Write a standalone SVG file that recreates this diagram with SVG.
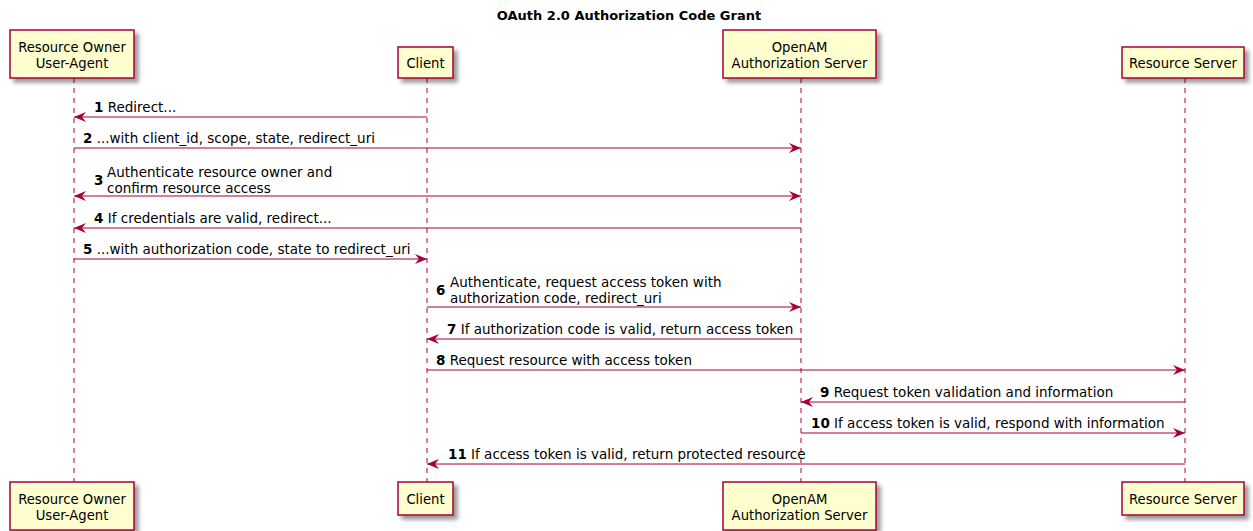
<svg xmlns="http://www.w3.org/2000/svg" width="1253" height="531" viewBox="0 0 1253 531">
<style>
text{font-family:"DejaVu Sans","Liberation Sans",sans-serif;font-size:13.5px;fill:#000}
.t{font-weight:bold;font-size:13px}
.n{font-weight:bold}
.p{font-size:13.2px}
.box{fill:#FEFECE;stroke:#A80036;stroke-width:1.5}
.life{stroke:#A80036;stroke-width:1;stroke-dasharray:5,5;fill:none}
.msg{stroke:#A80036;stroke-width:1;fill:none}
.c{text-anchor:middle}
</style>
<defs>
<filter id="sh" x="-10%" y="-10%" width="130%" height="140%">
<feGaussianBlur in="SourceAlpha" stdDeviation="2"/>
<feOffset dx="4" dy="4" result="b"/>
<feComponentTransfer><feFuncA type="linear" slope="0.4"/></feComponentTransfer>
<feMerge><feMergeNode/><feMergeNode in="SourceGraphic"/></feMerge>
</filter>
<marker id="ah" viewBox="0 0 12 10" refX="12" refY="5" markerWidth="12" markerHeight="10" markerUnits="userSpaceOnUse" orient="auto-start-reverse">
<polygon points="0,0 12,5 0,10 4,5" fill="#A80036"/>
</marker>
</defs>
<text class="t c" x="629" y="20">OAuth 2.0 Authorization Code Grant</text>
<g id="lifelines">
<line class="life" x1="74" y1="78" x2="74" y2="482"/>
<line class="life" x1="427" y1="78" x2="427" y2="482"/>
<line class="life" x1="801" y1="78" x2="801" y2="482"/>
<line class="life" x1="1185" y1="78" x2="1185" y2="482"/>
</g>
<g id="p-owner">
<rect class="box" x="10" y="30" width="124" height="48" filter="url(#sh)"/>
<text class="c p" x="72" y="52">Resource Owner</text>
<text class="c p" x="72" y="68">User-Agent</text>
<rect class="box" x="10" y="482" width="124" height="48" filter="url(#sh)"/>
<text class="c p" x="72" y="504">Resource Owner</text>
<text class="c p" x="72" y="520">User-Agent</text>
</g>
<g id="p-client">
<rect class="box" x="398" y="47" width="55" height="31" filter="url(#sh)"/>
<text class="c p" x="425.5" y="68">Client</text>
<rect class="box" x="398" y="482" width="55" height="33" filter="url(#sh)"/>
<text class="c p" x="425.5" y="504">Client</text>
</g>
<g id="p-openam">
<rect class="box" x="723" y="30" width="153" height="48" filter="url(#sh)"/>
<text class="c p" x="799.5" y="52">OpenAM</text>
<text class="c p" x="799.5" y="68">Authorization Server</text>
<rect class="box" x="723" y="482" width="153" height="48" filter="url(#sh)"/>
<text class="c p" x="799.5" y="504">OpenAM</text>
<text class="c p" x="799.5" y="520">Authorization Server</text>
</g>
<g id="p-rs">
<rect class="box" x="1122" y="47" width="122" height="31" filter="url(#sh)"/>
<text class="c p" x="1183" y="68">Resource Server</text>
<rect class="box" x="1122" y="482" width="122" height="33" filter="url(#sh)"/>
<text class="c p" x="1183" y="504">Resource Server</text>
</g>
<g id="connectors">
<line class="msg" x1="427" y1="117" x2="74" y2="117" marker-end="url(#ah)"/>
<line class="msg" x1="74" y1="148" x2="801" y2="148" marker-end="url(#ah)"/>
<line class="msg" x1="74" y1="196" x2="801" y2="196" marker-start="url(#ah)" marker-end="url(#ah)"/>
<line class="msg" x1="801" y1="228" x2="74" y2="228" marker-end="url(#ah)"/>
<line class="msg" x1="74" y1="259" x2="427" y2="259" marker-end="url(#ah)"/>
<line class="msg" x1="427" y1="307" x2="801" y2="307" marker-end="url(#ah)"/>
<line class="msg" x1="801" y1="339" x2="427" y2="339" marker-end="url(#ah)"/>
<line class="msg" x1="427" y1="370" x2="1185" y2="370" marker-end="url(#ah)"/>
<line class="msg" x1="1185" y1="402" x2="801" y2="402" marker-end="url(#ah)"/>
<line class="msg" x1="801" y1="433" x2="1185" y2="433" marker-end="url(#ah)"/>
<line class="msg" x1="1185" y1="464" x2="427" y2="464" marker-end="url(#ah)"/>
</g>
<g id="labels">
<text x="94" y="112"><tspan class="n">1</tspan> Redirect...</text>
<text x="83" y="143"><tspan class="n">2</tspan> ...with client_id, scope, state, redirect_uri</text>
<text class="n" x="94" y="185">3</text>
<text x="107" y="177">Authenticate resource owner and</text>
<text x="107" y="193">confirm resource access</text>
<text x="94" y="223"><tspan class="n">4</tspan> If credentials are valid, redirect...</text>
<text x="83" y="254"><tspan class="n">5</tspan> ...with authorization code, state to redirect_uri</text>
<text class="n" x="436" y="295">6</text>
<text x="450" y="287">Authenticate, request access token with</text>
<text x="450" y="303">authorization code, redirect_uri</text>
<text x="447" y="334"><tspan class="n">7</tspan> If authorization code is valid, return access token</text>
<text x="436" y="365"><tspan class="n">8</tspan> Request resource with access token</text>
<text x="820" y="397"><tspan class="n">9</tspan> Request token validation and information</text>
<text x="811" y="428"><tspan class="n">10</tspan> If access token is valid, respond with information</text>
<text x="448" y="459"><tspan class="n">11</tspan> If access token is valid, return protected resource</text>
</g>
</svg>
